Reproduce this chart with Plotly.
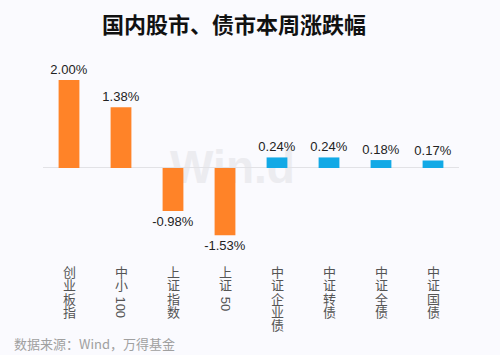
import plotly.graph_objects as go

categories = ["创业板指", "中小100", "上证指数", "上证50", "中证企业债", "中证转债", "中证全债", "中证国债"]
values = [2.00, 1.38, -0.98, -1.53, 0.24, 0.24, 0.18, 0.17]
groups = ["股", "股", "股", "股", "债", "债", "债", "债"]
title_text = "国内股市、债市本周涨跌幅"
source_text = "数据来源：Wind，万得基金"

group_colors = {"股": "#FF8328", "债": "#12A9E6"}
bg = "#FAFAFE"

fig = go.Figure()
fig.add_trace(go.Bar(
    x=categories, y=values,
    marker=dict(color=[group_colors[g] for g in groups], line=dict(width=0)),
    text=[f"{v:.2f}%" for v in values],
    textposition="outside",
    constraintext="none",
    textfont=dict(family="Liberation Sans, Arial", size=13, color="#222222"),
    cliponaxis=False,
    width=0.4,
    hoverinfo="skip",
))

annotations = []
pitch = 13.3
for i, lab in enumerate(categories):
    parts = []
    buf = ""
    for ch in lab:
        if ch.isdigit():
            buf += ch
        else:
            if buf:
                parts.append(buf)
                buf = ""
            parts.append(ch)
    if buf:
        parts.append(buf)
    offset = 18.0
    for p in parts:
        if p.isdigit():
            h = len(p) * 7.2
            annotations.append(dict(
                x=lab, y=0, xref="x", yref="paper", text=p, showarrow=False,
                textangle=90, yanchor="middle", xanchor="center",
                yshift=-(offset + 2 + h / 2),
                font=dict(family="Liberation Sans, Arial", size=13, color="#555555"),
            ))
            offset += h + 2
        else:
            annotations.append(dict(
                x=lab, y=0, xref="x", yref="paper", text=p, showarrow=False,
                yanchor="top", xanchor="center", yshift=-(offset - 8),
                font=dict(family="Noto Sans CJK SC", size=13, color="#555555"),
            ))
            offset += pitch

annotations.append(dict(
    x=-31 / 416, y=-(343 - 250) / 180, xref="paper", yref="paper",
    text=source_text, showarrow=False, xanchor="left", yanchor="middle",
    font=dict(family="Noto Sans CJK SC", size=13, color="#A0A0A0"),
))

fig.update_layout(
    width=500, height=355,
    margin=dict(l=43, r=41, t=70, b=105),
    paper_bgcolor=bg, plot_bgcolor=bg,
    showlegend=False,
    hovermode=False,
    title=dict(
        text="<b>" + title_text + "</b>", x=234 / 500, xanchor="center",
        y=1 - 25 / 355, yanchor="middle",
        font=dict(family="Noto Sans CJK SC", size=22, color="#111111"),
    ),
    xaxis=dict(showticklabels=False, showgrid=False, zeroline=False,
               showline=False, ticks="", range=[-0.5, 7.5]),
    yaxis=dict(showticklabels=False, showgrid=False, zeroline=True,
               zerolinecolor="#E2E2E6", zerolinewidth=1, showline=False,
               range=[-1.864, 2.227]),
    annotations=annotations,
    shapes=[dict(
        type="rect", xref="paper", yref="paper",
        x0=(180 - 43) / 416, x1=(285 - 43) / 416,
        y0=(250 - 185) / 180, y1=(250 - 140) / 180,
        line=dict(width=0), fillcolor="rgba(0,0,0,0)", layer="below",
        label=dict(text="<b>Win.d</b>", font=dict(family="Liberation Sans, Arial", size=46, color="#ECECF0")),
    )],
)

fig.write_html("out.html", config={"displayModeBar": False, "staticPlot": True},
               post_script="document.body.style.margin='0';document.body.style.background='%s';" % bg)
